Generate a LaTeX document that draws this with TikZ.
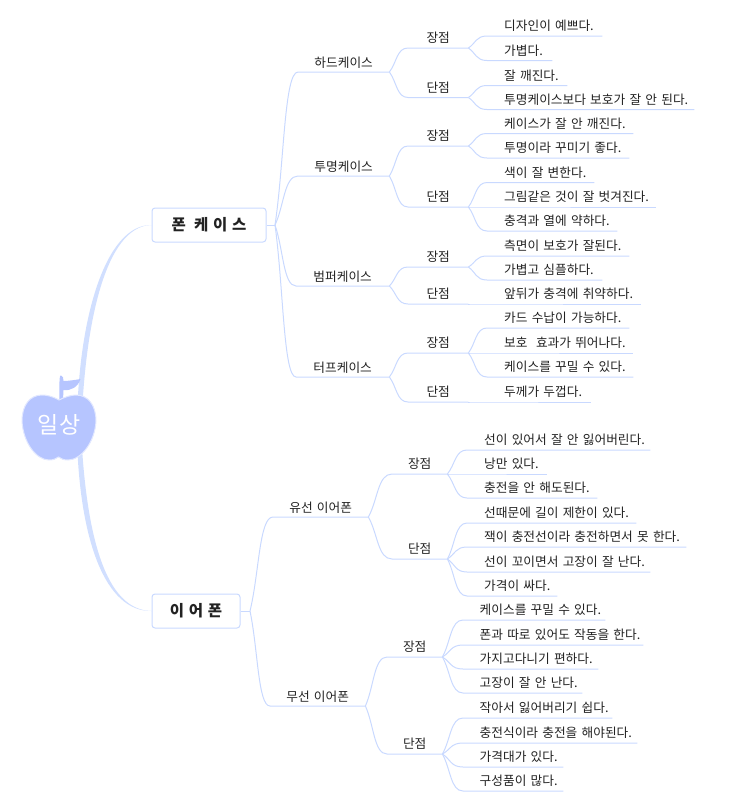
\documentclass[tikz,border=0pt]{standalone}
\usepackage{fontspec}
\setmainfont{Noto Sans CJK KR}
\newfontfamily\topfont[LetterSpace=30]{Noto Sans CJK KR}
\usetikzlibrary{calc}
\definecolor{linecol}{HTML}{C9D9FF}
\definecolor{applecol}{HTML}{B6C5FF}
\definecolor{halocol}{HTML}{E2E8FF}
\definecolor{textcol}{HTML}{222222}
\tikzstyle{edge} = [draw=linecol, line width=1pt]
\tikzstyle{rootedge} = [fill=linecol!85, draw=none]
\tikzstyle{topic} = [draw=linecol, line width=1pt, rounded corners=3pt, inner sep=0pt, text=textcol, font=\fontsize{15.5pt}{16pt}\topfont\bfseries]
\tikzstyle{sub} = [anchor=south west, text width=#1, align=center, inner xsep=0pt, inner ysep=2.5pt, text height=10pt, text depth=2.5pt, text=textcol, font=\fontsize{12.7pt}{14pt}\selectfont]
\tikzstyle{kind} = [sub=#1, inner ysep=1.5pt]
\tikzstyle{leaf} = [sub=#1, align=left, execute at begin node={\hspace*{17pt}}]
\tikzstyle{leafb} = [sub=#1, align=left, execute at begin node={\hspace*{16.5pt}}]
\tikzset{branch/.style={to path={.. controls ($(\tikztostart)!0.4!(\tikztotarget)$) and ($(\tikztotarget)!0.6!(\tikztostart |- \tikztotarget)$) .. (\tikztotarget)}}}

\begin{document}
\begin{tikzpicture}[x=1pt, y=-1pt]
	\useasboundingbox (0,0) rectangle (731,804);

	% centre
	\coordinate (rootup) at (77,425);
	\coordinate (rootdown) at (77,440);
	\node[topic, minimum width=114pt, minimum height=34pt] (case) at (209,225) {폰 케이스};
	\node[topic, minimum width=88pt, minimum height=34pt] (phone) at (196,611) {이어폰};
	\coordinate (casej) at (275,225);
	\coordinate (phonej) at (250,611);

	% phone case
	\node[kind=91pt] (hard) at (298,72) {하드케이스};
	\node[kind=91pt] (clear) at (298,176) {투명케이스};
	\node[kind=93pt] (bumper) at (296,286) {범퍼케이스};
	\node[kind=93pt] (tough) at (296,377) {터프케이스};

	\node[sub=60pt] (hardp) at (408,48) {장점};
	\node[sub=60pt] (hardm) at (408,97.5) {단점};
	\node[sub=60pt] (clearp) at (408,146) {장점};
	\node[sub=60pt] (clearm) at (408,207) {단점};
	\node[sub=60pt] (bumperp) at (408,267) {장점};
	\node[sub=60pt] (bumperm) at (408,304) {단점};
	\node[sub=60pt] (toughp) at (408,353) {장점};
	\node[sub=60pt] (toughm) at (408,402) {단점};

	\node[leaf=115pt] (hardp1) at (487,36) {디자인이 예쁘다.};
	\node[leaf=65pt] (hardp2) at (487,60.5) {가볍다.};
	\node[leaf=80pt] (hardm1) at (487,85.5) {잘 깨진다.};
	\node[leaf=207pt] (hardm2) at (487,109.5) {투명케이스보다 보호가 잘 안 된다.};
	\node[leaf=146pt] (clearp1) at (487,133.5) {케이스가 잘 안 깨진다.};
	\node[leaf=142pt] (clearp2) at (487,158) {투명이라 꾸미기 좋다.};
	\node[leaf=107pt] (clearm1) at (487,182.5) {색이 잘 변한다.};
	\node[leaf=169pt] (clearm2) at (487,207) {그림같은 것이 잘 벗겨진다.};
	\node[leaf=130pt] (clearm3) at (487,231) {충격과 열에 약하다.};
	\node[leaf=142pt] (bumperp1) at (487,256) {측면이 보호가 잘된다.};
	\node[leaf=115pt] (bumperp2) at (487,280) {가볍고 심플하다.};
	\node[leaf=154pt] (bumperm1) at (487,304) {앞뒤가 충격에 취약하다.};
	\node[leaf=142pt] (toughp1) at (487,328) {카드 수납이 가능하다.};
	\node[leaf=146pt] (toughp2) at (487,353) {보호 \ 효과가 뛰어나다.};
	\node[leaf=146pt] (toughp3) at (487,377) {케이스를 꾸밀 수 있다.};
	\node[leaf=104pt] (toughm1) at (487,402) {두께가 두껍다.};

	% earphone
	\node[kind=95pt] (wired) at (273,517) {유선 이어폰};
	\node[kind=95pt] (bt) at (270,706) {무선 이어폰};

	\node[sub=55pt] (wiredp) at (392,474) {장점};
	\node[sub=55pt] (wiredm) at (392,559) {단점};
	\node[sub=55pt] (btp) at (387,657) {장점};
	\node[sub=55pt] (btm) at (387,754) {단점};

	\node[leaf=183pt] (wiredp1) at (467,450) {선이 있어서 잘 안 잃어버린다.};
	\node[leaf=80pt] (wiredp2) at (467,474) {낭만 있다.};
	\node[leaf=130pt] (wiredp3) at (467,498) {충전을 안 해도된다.};
	\node[leaf=169pt] (wiredm1) at (467,523) {선때문에 길이 제한이 있다.};
	\node[leaf=219pt] (wiredm2) at (467,547) {잭이 충전선이라 충전하면서 못 한다.};
	\node[leaf=183pt] (wiredm3) at (467,572) {선이 꼬이면서 고장이 잘 난다.};
	\node[leaf=90pt] (wiredm4) at (467,596) {가격이 싸다.};

	\node[leafb=142pt] (btp1) at (463,620) {케이스를 꾸밀 수 있다.};
	\node[leafb=180pt] (btp2) at (463,645) {폰과 따로 있어도 작동을 한다.};
	\node[leafb=135pt] (btp3) at (463,669) {가지고다니기 편하다.};
	\node[leafb=119pt] (btp4) at (463,693) {고장이 잘 안 난다.};
	\node[leafb=149pt] (btm1) at (463,718) {작아서 잃어버리기 쉽다.};
	\node[leafb=174pt] (btm2) at (463,743) {충전식이라 충전을 해야된다.};
	\node[leafb=100pt] (btm3) at (463,767) {가격대가 있다.};
	\node[leafb=100pt] (btm4) at (463,791) {구성품이 많다.};

	\fill[rootedge] (rootup) .. controls (78,320) and (105,224.3) .. (case.west) .. controls (105,226) and (85,325) .. ($(rootup)+(4.5,0)$) -- cycle;
	\fill[rootedge] (rootdown) .. controls (80,540) and (105,611.7) .. (phone.west) .. controls (105,610) and (87,535) .. ($(rootdown)+(4.5,0)$) -- cycle;

	\draw[edge] (case.east) -- (casej);
	\draw[edge] (phone.east) -- (phonej);
	\foreach \c in {hard,clear,bumper,tough}
		\draw[edge] (casej) to[branch] (\c.south west) -- (\c.south east);
	\foreach \c in {wired,bt}
		\draw[edge] (phonej) to[branch] (\c.south west) -- (\c.south east);
	\foreach \p/\c in {hard/hardp,hard/hardm,clear/clearp,clear/clearm,bumper/bumperp,bumper/bumperm,tough/toughp,tough/toughm,wired/wiredp,wired/wiredm,bt/btp,bt/btm,
		hardp/hardp1,hardp/hardp2,hardm/hardm1,hardm/hardm2,clearp/clearp1,clearp/clearp2,clearm/clearm1,clearm/clearm2,clearm/clearm3,
		bumperp/bumperp1,bumperp/bumperp2,bumperm/bumperm1,toughp/toughp1,toughp/toughp2,toughp/toughp3,toughm/toughm1,
		wiredp/wiredp1,wiredp/wiredp2,wiredp/wiredp3,wiredm/wiredm1,wiredm/wiredm2,wiredm/wiredm3,wiredm/wiredm4,
		btp/btp1,btp/btp2,btp/btp3,btp/btp4,btm/btm1,btm/btm2,btm/btm3,btm/btm4}
		\draw[edge] (\p.south east) to[branch] (\c.south west) -- (\c.south east);

	% apple
	\fill[applecol] (59.5,401) .. controls (59,376) and (60,375) .. (61,375.5) .. controls (63,376) and (63.5,378) .. (63.5,381) .. controls (68,381) and (75,380) .. (80.5,379) .. controls (78,387) and (71,391) .. (63.5,390) -- (63,400) -- cycle;
	\path[fill=applecol, draw=halocol, line width=1pt] (59,400) .. controls (52,396) and (46,395) .. (42,395) .. controls (30,395) and (22,405) .. (22,421) .. controls (23,442) and (36,460) .. (49,460) .. controls (53,460) and (56,459) .. (58.5,457) .. controls (61,459) and (64,460) .. (68,460) .. controls (81,460) and (95,442) .. (96,421) .. controls (96,405) and (88,395) .. (76,395) .. controls (71,395) and (65,397) .. (59,400) -- cycle;
	\node[text=white, inner sep=0pt, font=\fontsize{23pt}{24pt}\selectfont] (root) at (59,425) {일상};
\end{tikzpicture}
\end{document}
